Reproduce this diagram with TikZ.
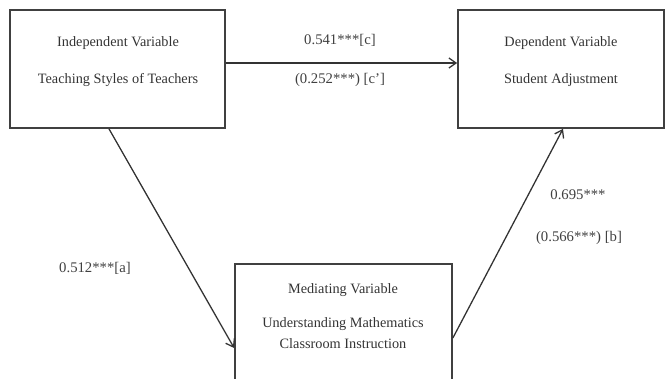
\documentclass[tikz,border=0pt]{standalone}
\usepackage{fontspec}
\setmainfont{Liberation Serif}
\usetikzlibrary{arrows.meta}

\begin{document}
\begin{tikzpicture}[x=0.7pt,y=-0.7pt,
	box/.style={draw=black!75, line width=1.2pt, inner sep=0pt},
	arr/.style={draw=black!80, line width=0.9pt, -{Straight Barb[length=5pt,width=7pt]}},
	lbl/.style={text=black!80, font=\fontsize{10}{14.5}\selectfont},
	coef/.style={text=black!75, font=\fontsize{10.3}{12}\selectfont}]

	\useasboundingbox (0,0) rectangle (670,379);
	\clip (0,0) rectangle (670,379);

	\node[box, minimum width=150.5pt, minimum height=82.6pt] (indep) at (117.5,69) {};
	\node[box, minimum width=144.2pt, minimum height=82.6pt] (dep) at (561,69) {};
	\node[box, minimum width=151.9pt, minimum height=95.2pt] (med) at (343.5,332) {};

   \node[lbl] (indepA) at (118,43) {Independent Variable};
   \node[lbl] (indepB) at (118,80) {Teaching Styles of Teachers};
   \node[lbl] (depA) at (561,43) {Dependent Variable};
   \node[lbl] (depB) at (561,80) {Student Adjustment};
   \node[lbl] (medA) at (343,290) {Mediating Variable};
   \node[lbl, align=center] (medB) at (343,333) {Understanding Mathematics\\Classroom Instruction};

	\draw[arr] (indep.east |- 0,63) -- (dep.west |- 0,63);
	\draw[arr] (109,0 |- indep.south) -- (med.west |- 0,348);
	\draw[arr] (med.east |- 0,338) -- (563,0 |- dep.south);

   \node[coef] (c) at (340,40) {0.541***[c]};
   \node[coef] (cprime) at (340,80) {(0.252***) [c']};
   \node[coef] (a) at (95,268) {0.512***[a]};
   \node[coef] (b) at (578,195) {0.695***};
   \node[coef] (bprime) at (579,238) {(0.566***) [b]};
\end{tikzpicture}
\end{document}
